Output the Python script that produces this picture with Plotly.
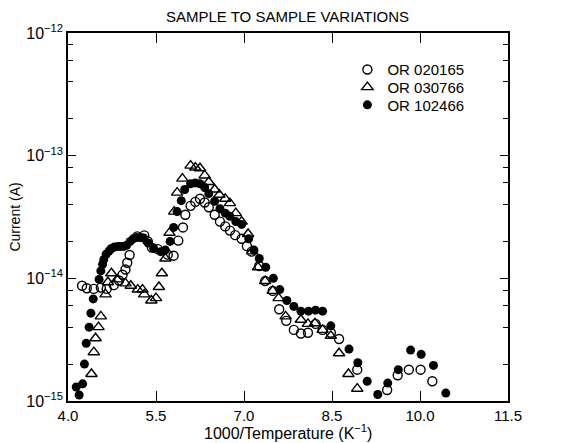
import plotly.graph_objects as go

# OR020165 (open circles)
x_020165 = [4.24, 4.32, 4.44, 4.56, 4.66, 4.78, 4.87, 4.93, 4.98, 5.01, 5.05, 5.18, 5.30, 5.36,
            5.43, 5.53, 5.70, 5.80, 5.88, 5.96, 6.00, 6.09, 6.17, 6.25, 6.33, 6.40, 6.50, 6.59,
            6.68, 6.76, 6.85, 6.96, 7.05, 7.13, 7.26, 7.36, 7.49, 7.60, 7.72, 7.85, 7.97, 8.09,
            8.22, 8.34, 8.48, 8.62, 8.93, 9.44, 9.62, 9.81, 10.01, 10.21]
y_020165 = [8.7e-15, 8.3e-15, 8.2e-15, 8.4e-15, 8.2e-15, 8.8e-15, 9.6e-15, 1.07e-14, 1.18e-14,
            1.34e-14, 1.55e-14, 2.2e-14, 2.24e-14, 2.0e-14, 1.78e-14, 1.73e-14, 1.56e-14, 1.53e-14,
            2.03e-14, 2.6e-14, 3.3e-14, 3.9e-14, 4.2e-14, 4.45e-14, 4.15e-14, 3.8e-14, 3.3e-14,
            2.9e-14, 2.65e-14, 2.45e-14, 2.25e-14, 2.1e-14, 1.83e-14, 1.65e-14, 1.26e-14, 9.5e-15,
            7.9e-15, 5.6e-15, 4.5e-15, 3.8e-15, 3.55e-15, 3.6e-15, 4.25e-15, 3.8e-15, 3.6e-15,
            3.2e-15, 1.8e-15, 1.23e-15, 1.62e-15, 1.8e-15, 1.8e-15, 1.45e-15]

# OR030766 (open triangles)
x_030766 = [4.40, 4.44, 4.47, 4.52, 4.56, 4.64, 4.68, 4.74, 4.84, 4.98, 5.07, 5.19, 5.27, 5.30,
            5.42, 5.50, 5.55, 5.60, 5.66, 5.73, 5.81, 5.86, 5.95, 6.09, 6.17, 6.25, 6.33, 6.40,
            6.50, 6.58, 6.68, 6.76, 6.86, 6.96, 7.07, 7.14, 7.24, 7.36, 7.49, 7.59, 7.71, 7.97,
            8.09, 8.21, 8.34, 8.48, 8.62, 8.78, 8.93]
y_030766 = [1.66e-15, 2.5e-15, 3.25e-15, 4.0e-15, 4.9e-15, 7.4e-15, 9.3e-15, 1.1e-14, 9.8e-15,
            9.1e-15, 8.7e-15, 8.1e-15, 8.1e-15, 7.4e-15, 6.6e-15, 6.9e-15, 8.5e-15, 1.1e-14,
            1.45e-14, 2.35e-14, 3.5e-14, 5.0e-14, 6.5e-14, 8.3e-14, 8.0e-14, 7.9e-14, 6.9e-14,
            6.1e-14, 5.3e-14, 4.8e-14, 4.45e-14, 4.1e-14, 3.4e-14, 2.9e-14, 2.3e-14, 1.66e-14,
            1.23e-14, 9.5e-15, 7.9e-15, 6.9e-15, 4.9e-15, 4.6e-15, 4.25e-15, 4.3e-15, 3.8e-15,
            3.4e-15, 2.45e-15, 1.66e-15, 1.26e-15]

# OR102466 (filled circles)
x_102466 = [4.14, 4.19, 4.25, 4.28, 4.31, 4.36, 4.39, 4.43, 4.53, 4.56, 4.59, 4.61, 4.65, 4.70,
            4.74, 4.79, 4.85, 4.90, 4.95, 5.00, 5.06, 5.11, 5.17, 5.24, 5.29, 5.37, 5.46, 5.58,
            5.66, 5.74, 5.80, 5.86, 5.93, 5.99, 6.09, 6.17, 6.25, 6.33, 6.40, 6.50, 6.59, 6.68,
            6.76, 6.86, 6.96, 7.08, 7.17, 7.26, 7.37, 7.50, 7.61, 7.73, 7.85, 7.97, 8.10, 8.22,
            8.34, 8.48, 8.79, 8.94, 9.10, 9.28, 9.45, 9.63, 9.84, 10.02, 10.23, 10.44]
y_102466 = [1.3e-15, 1.12e-15, 1.38e-15, 2.0e-15, 2.95e-15, 4.0e-15, 5.2e-15, 6.8e-15, 9.8e-15,
            1.15e-14, 1.3e-14, 1.42e-14, 1.57e-14, 1.67e-14, 1.75e-14, 1.8e-14, 1.82e-14, 1.82e-14,
            1.82e-14, 1.86e-14, 2.0e-14, 2.1e-14, 2.15e-14, 2.15e-14, 2.13e-14, 1.94e-14, 1.75e-14,
            1.65e-14, 1.7e-14, 2.0e-14, 2.6e-14, 3.5e-14, 4.3e-14, 5.3e-14, 5.9e-14, 6.0e-14,
            5.9e-14, 5.5e-14, 4.9e-14, 4.25e-14, 3.7e-14, 3.4e-14, 3.2e-14, 2.9e-14, 2.75e-14,
            2.1e-14, 1.7e-14, 1.45e-14, 1.23e-14, 1.0e-14, 8.1e-15, 6.6e-15, 5.9e-15, 5.4e-15,
            5.4e-15, 5.5e-15, 5.4e-15, 4.1e-15, 2.65e-15, 2.05e-15, 1.45e-15, 1.13e-15, 1.4e-15,
            1.8e-15, 2.6e-15, 2.4e-15, 1.95e-15, 1.16e-15]

x_ticks = [4.0, 5.5, 7.0, 8.5, 10.0, 11.5]
x_ticklabels = ["4.0", "5.5", "7.0", "8.5", "10.0", "11.5"]
y_ticks = [1e-15, 1e-14, 1e-13, 1e-12]
y_ticklabels = ["10<sup>−15</sup>", "10<sup>−14</sup>", "10<sup>−13</sup>", "10<sup>−12</sup>"]
y_minor = [m * 10.0 ** e for e in (-15, -14, -13) for m in (2, 4, 6, 8)]

font = "Liberation Sans, Arial, sans-serif"

fig = go.Figure()
fig.add_trace(go.Scatter(x=x_020165, y=y_020165, mode="markers", name="OR 020165",
                         legend="legend",
                         marker=dict(symbol="circle-open", size=9, color="black",
                                     line=dict(width=1.4, color="black"))))
fig.add_trace(go.Scatter(x=x_030766, y=y_030766, mode="markers", name="OR 030766",
                         legend="legend2",
                         marker=dict(symbol="triangle-up-open", size=10, color="black",
                                     line=dict(width=1.4, color="black"))))
fig.add_trace(go.Scatter(x=x_102466, y=y_102466, mode="markers", name="OR 102466",
                         legend="legend3",
                         marker=dict(symbol="circle", size=9, color="black")))

axis_common = dict(showline=True, linecolor="black", linewidth=1.5, mirror="ticks",
                   ticks="inside", tickcolor="black", tickwidth=1.2, showgrid=False,
                   zeroline=False, automargin=False)

fig.update_xaxes(range=[4.0, 11.5], tickmode="array", tickvals=x_ticks, ticktext=x_ticklabels,
                 ticklen=10, tickfont=dict(family=font, size=15, color="black"), **axis_common)
fig.update_yaxes(type="log", range=[-15, -12], tickmode="array", tickvals=y_ticks,
                 ticktext=y_ticklabels, ticklen=8,
                 tickfont=dict(family=font, size=16, color="black"),
                 minor=dict(tickmode="array", tickvals=y_minor, ticks="inside", ticklen=5,
                            tickcolor="black", tickwidth=1),
                 title=dict(text="Current (A)", font=dict(family=font, size=14, color="black"),
                            standoff=2),
                 **axis_common)

legend_style = dict(x=0.635, xanchor="left", yanchor="top", bgcolor="rgba(0,0,0,0)",
                    font=dict(family=font, size=15, color="black"), itemsizing="trace")

fig.update_layout(
    width=575, height=443,
    margin=dict(l=68, r=67, t=33, b=42),
    paper_bgcolor="white", plot_bgcolor="white",
    title=dict(text="SAMPLE TO SAMPLE VARIATIONS", x=0.5, xanchor="center",
               y=0.962, yanchor="middle",
               font=dict(family=font, size=15, color="black")),
    showlegend=True,
    legend=dict(y=0.945, **legend_style),
    legend2=dict(y=0.897, **legend_style),
    legend3=dict(y=0.849, **legend_style),
    annotations=[dict(text="1000/Temperature (K<sup>−1</sup>)", x=0.5, y=-0.084,
                      xref="paper", yref="paper", xanchor="center", yanchor="middle",
                      showarrow=False, font=dict(family=font, size=16, color="black"))],
)

# page body has a default 8px margin; drop it so the figure sits at the window origin
fig.write_html("out.html", config={"displayModeBar": False},
               post_script="document.body.style.margin='0';")
